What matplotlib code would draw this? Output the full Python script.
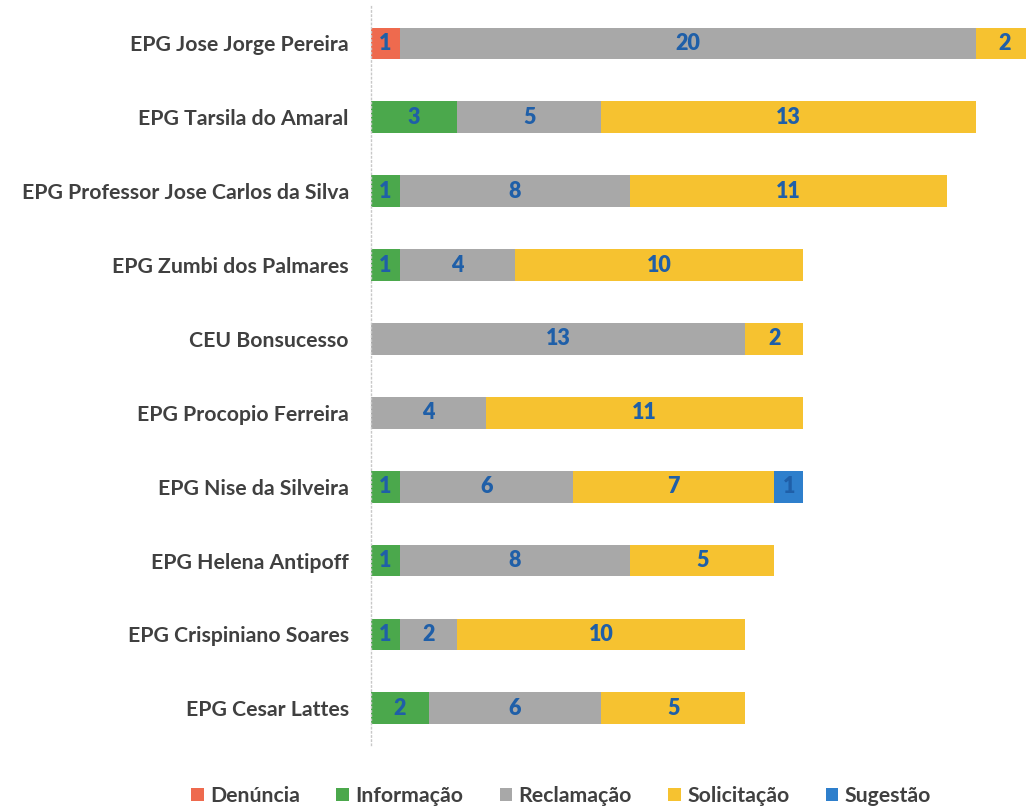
import matplotlib.pyplot as plt
import numpy as np

plt.rcParams['font.family'] = ['Lato', 'DejaVu Sans']

escolas = ['EPG Jose Jorge Pereira', 'EPG Tarsila do Amaral',
           'EPG Professor Jose Carlos da Silva', 'EPG Zumbi dos Palmares',
           'CEU Bonsucesso', 'EPG Procopio Ferreira', 'EPG Nise da Silveira',
           'EPG Helena Antipoff', 'EPG Crispiniano Soares', 'EPG Cesar Lattes']

denuncia = [1, 0, 0, 0, 0, 0, 0, 0, 0, 0]
informacao = [0, 3, 1, 1, 0, 0, 1, 1, 1, 2]
reclamacao = [20, 5, 8, 4, 13, 4, 6, 8, 2, 6]
solicitacao = [2, 13, 11, 10, 2, 11, 7, 5, 10, 5]
sugestao = [0, 0, 0, 0, 0, 0, 1, 0, 0, 0]

series = [('Denúncia', denuncia, '#EE6A4E'),
          ('Informação', informacao, '#4BA84C'),
          ('Reclamação', reclamacao, '#A8A8A8'),
          ('Solicitação', solicitacao, '#F6C230'),
          ('Sugestão', sugestao, '#2E7FCC')]

fig = plt.figure(figsize=(10.26, 8.1), dpi=100)
ax = fig.add_axes([0.3616, 0.080, 0.6384, 0.912])

y = np.arange(len(escolas))
left = np.zeros(len(escolas))
for nome, vals, cor in series:
    vals = np.array(vals, dtype=float)
    ax.barh(y, vals, left=left, height=0.43, color=cor, label=nome)
    # rotulos de valor no meio de cada segmento
    for yi, (l, v) in enumerate(zip(left, vals)):
        if v > 0:
            ax.text(l + v / 2, yi, str(int(v)), ha='center', va='center',
                    color='#1F5FA8', fontsize=15.5, fontweight='heavy')
    left += vals

ax.set_xlim(0, 22.74)
ax.set_ylim(9.5, -0.5)
ax.set_yticks(y)
ax.set_yticklabels(escolas, fontsize=15.3, fontweight='bold', color='#404040')
ax.tick_params(axis='y', length=0, pad=16)
ax.set_xticks([])
for s in ['top', 'right', 'bottom']:
    ax.spines[s].set_visible(False)
ax.spines['left'].set_linestyle((0, (1, 2)))
ax.spines['left'].set_color('#C8C8C8')
ax.spines['left'].set_linewidth(1)

leg = fig.legend(loc='center', bbox_to_anchor=(0.547, 0.017), ncol=5,
                 frameon=False, handlelength=0.6, handleheight=0.6,
                 handletextpad=0.3, columnspacing=1.7,
                 prop={'size': 15.3, 'weight': 'bold'})
for t in leg.get_texts():
    t.set_color('#404040')

fig.savefig('out.png', dpi=100)
